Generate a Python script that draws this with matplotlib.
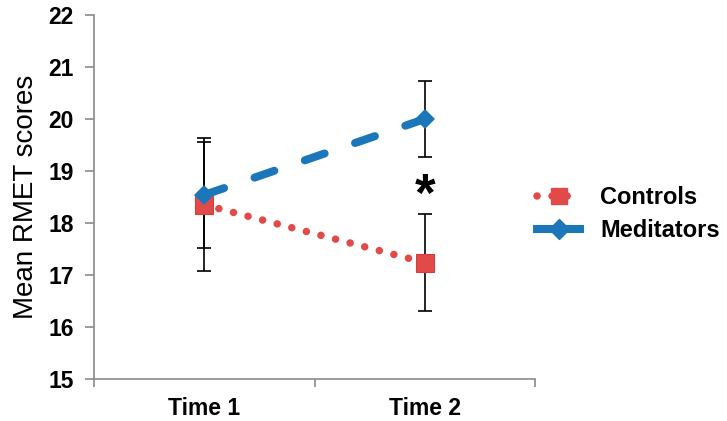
import matplotlib
matplotlib.use("Agg")
import matplotlib.pyplot as plt
from matplotlib.lines import Line2D

plt.rcParams["font.family"] = ["Liberation Sans", "DejaVu Sans"]

# data
time_labels = ["Time 1", "Time 2"]
controls_mean = [18.35, 17.24]
controls_err = [1.28, 0.93]
meditators_mean = [18.54, 20.0]
meditators_err = [1.02, 0.74]
star_y = 18.5

RED = "#E24A4A"
BLUE = "#1C76BA"
AXIS_GREY = "#8a8a8a"
DOTTED = (0, (0.01, 2.0))
DASHED = (0, (2.6, 4.0))

fig = plt.figure(figsize=(7.27, 4.21), dpi=100)
ax = fig.add_axes([94 / 727, 1 - 379 / 421, 441 / 727, 364 / 421])

x = list(range(len(time_labels)))

# error bars first so markers sit on top
ax.errorbar(x, controls_mean, yerr=controls_err, fmt="none", ecolor="black",
            elinewidth=1.2, capsize=5, capthick=1.2, zorder=2)
ax.errorbar(x, meditators_mean, yerr=meditators_err, fmt="none", ecolor="black",
            elinewidth=1.2, capsize=5, capthick=1.2, zorder=2)

ax.plot(x, controls_mean, color=RED, lw=5.4, linestyle=DOTTED,
        dash_capstyle="round", zorder=3)
ax.plot(x, controls_mean, color=RED, lw=0, marker="s", markersize=13.5,
        markeredgecolor="#d04040", markeredgewidth=0.8, zorder=4)

ax.plot(x, meditators_mean, color=BLUE, lw=5.8, linestyle=DASHED,
        dash_capstyle="round", zorder=5)
ax.plot(x, meditators_mean, color=BLUE, lw=0, marker="D", markersize=10.5,
        markeredgewidth=0, zorder=6)

ax.text(x[1], star_y, "*", ha="center", va="center", fontsize=38,
        fontweight="bold", color="black", zorder=7)

ax.set_xlim(-0.5, 1.5)
ax.set_ylim(15, 22)
ax.set_yticks(range(15, 23))
ax.set_xticks(x)
ax.set_xticklabels(time_labels)
ax.set_xticks([-0.5, 0.5, 1.5], minor=True)

ax.tick_params(axis="x", which="major", length=0, pad=13, labelsize=16.5)
ax.tick_params(axis="x", which="minor", length=6, width=1.2, color=AXIS_GREY,
               direction="out")
ax.tick_params(axis="y", length=6.5, width=1.2, color=AXIS_GREY, pad=8,
               labelsize=16.5)
for lab in ax.get_xticklabels() + ax.get_yticklabels():
    lab.set_fontweight("bold")

for side in ("top", "right"):
    ax.spines[side].set_visible(False)
for side in ("left", "bottom"):
    ax.spines[side].set_color(AXIS_GREY)
    ax.spines[side].set_linewidth(1.2)

ax.set_ylabel("Mean RMET scores", fontsize=20, labelpad=7)

handles = [
    Line2D([], [], color=RED, lw=5.4, linestyle=DOTTED,
           dash_capstyle="round", marker="s", markersize=11),
    Line2D([], [], color=BLUE, lw=5.8, marker="D", markersize=10),
]
fig.legend(handles, ["Controls", "Meditators"], loc="center left",
           bbox_to_anchor=(528 / 727, 1 - 214 / 421), frameon=False,
           prop={"weight": "bold", "size": 17}, handlelength=1.8,
           labelspacing=0.42, handletextpad=0.85, borderaxespad=0)

fig.savefig("out.png", dpi=100)
